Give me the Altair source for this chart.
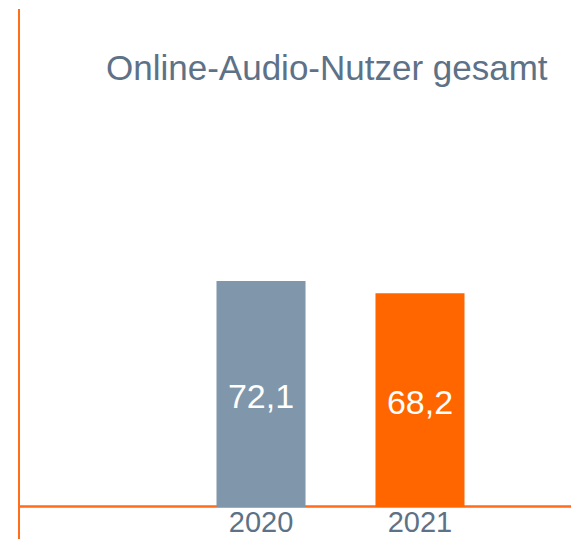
import altair as alt
import pandas as pd

years = ["2020", "2021"]
values = [72.1, 68.2]
labels = ["72,1", "68,2"]
colors = ["#8096aa", "#ff6600"]
title_text = "Online-Audio-Nutzer gesamt"

df = pd.DataFrame({"year": years, "value": values, "label": labels, "color": colors})

FONT = "Liberation Sans"
SLATE = "#5d7187"
ORANGE = "#ff6d1a"

x = alt.X("year:N", axis=None,
          scale=alt.Scale(domain=years, range=[208.5, 456.5], paddingInner=0.44, paddingOuter=0))
yscale = alt.Scale(domain=[0, 159.2], range=[499, 0])

base = alt.Chart(df)

bars = base.mark_bar().encode(
    x=x,
    y=alt.Y("value:Q", scale=yscale, axis=None),
    color=alt.Color("color:N", scale=None, legend=None),
)

vals = base.transform_calculate(mid="datum.value / 2").mark_text(
    color="white", font=FONT, fontSize=34, baseline="middle", dy=4
).encode(
    x=x,
    y=alt.Y("mid:Q", scale=yscale),
    text="label:N",
)

yearlabels = base.mark_text(
    color=SLATE, font=FONT, fontSize=29, baseline="alphabetic"
).encode(
    x=x,
    y=alt.value(524),
    text="year:N",
)

hline = base.mark_rule(color=ORANGE, strokeWidth=1.8).encode(
    x=alt.value(11), x2=alt.value(563), y=alt.value(498.5)
)

vline = base.mark_rule(color=ORANGE, strokeWidth=1.8).encode(
    x=alt.value(11), y=alt.value(1), y2=alt.value(531)
)

title = alt.Chart(pd.DataFrame({"t": [title_text]})).mark_text(
    color=SLATE, font=FONT, fontSize=35, align="left", baseline="alphabetic"
).encode(
    x=alt.value(98), y=alt.value(71.5), text="t:N"
)

chart = alt.layer(hline, vline, bars, vals, yearlabels, title).properties(
    width=567, height=531, padding=0, autosize=alt.AutoSizeParams(type="none")
).configure_view(stroke=None)

chart.save("out.html", embed_options={"renderer": "svg", "actions": False})
